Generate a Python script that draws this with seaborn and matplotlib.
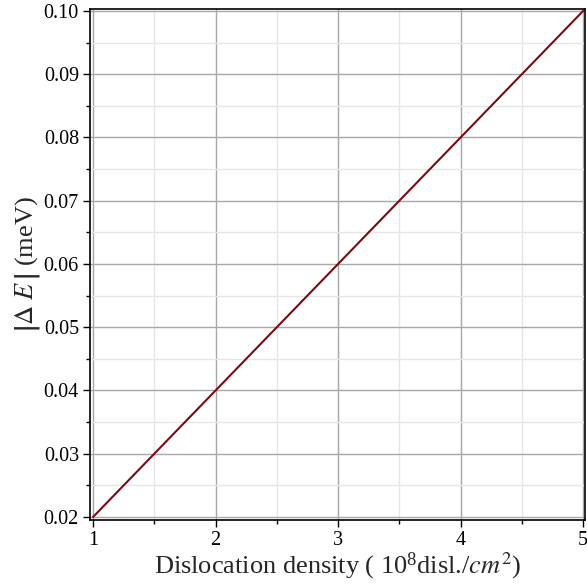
import matplotlib
matplotlib.use("Agg")
import matplotlib.pyplot as plt
import seaborn as sns
import pandas as pd
from matplotlib.ticker import MultipleLocator, FormatStrFormatter

density = [1, 2, 3, 4, 5]
delta_e = [0.02, 0.04, 0.06, 0.08, 0.10]

sns.set_theme(style="white")
plt.rcParams['font.family'] = ['Liberation Serif', 'DejaVu Serif']
plt.rcParams['mathtext.fontset'] = 'stix'

fig = plt.figure(figsize=(5.87, 5.84), dpi=100)
ax = fig.add_axes([90/587, 64/584, 495/587, 511/584])

df = pd.DataFrame({"x": density, "y": delta_e})
sns.lineplot(data=df, x="x", y="y", ax=ax, color="#7a0a14", linewidth=1.5, zorder=3)

ax.set_xlim(0.9755, 5.015)
ax.set_ylim(0.01953, 0.1003)

ax.xaxis.set_major_locator(MultipleLocator(1))
ax.xaxis.set_minor_locator(MultipleLocator(0.5))
ax.yaxis.set_major_locator(MultipleLocator(0.01))
ax.yaxis.set_minor_locator(MultipleLocator(0.005))
ax.yaxis.set_major_formatter(FormatStrFormatter('%.2f'))
ax.xaxis.set_major_formatter(FormatStrFormatter('%d'))

ax.grid(which='major', color='#a8a8a8', linewidth=1.0)
ax.grid(which='minor', color='#e6e6e6', linewidth=1.0)
ax.set_axisbelow(True)

for s in ax.spines.values():
    s.set_color('black')
    s.set_linewidth(1.2)

ax.tick_params(which='both', direction='out', bottom=True, left=True, top=False, right=False,
               colors='black', labelsize=14.5)
ax.tick_params(which='major', length=5, width=1, pad=3)
ax.tick_params(which='minor', length=3, width=1)

ax.set_xlabel(r'Dislocation density ( $\mathregular{10^{8}}$disl./$cm^{2}$)', fontsize=19, labelpad=0)
ax.set_ylabel(r'$\left|\Delta\ E^{\,}_{\,}\!\right|$ (meV)', fontsize=19, labelpad=1)

fig.savefig("out.png", dpi=100)
